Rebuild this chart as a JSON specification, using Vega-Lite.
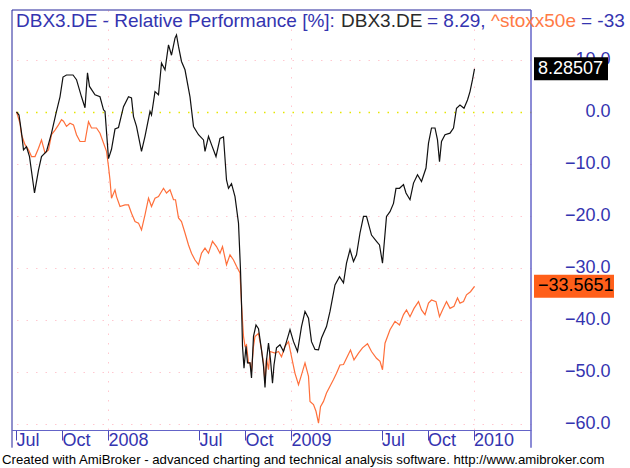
{
  "$schema": "https://vega.github.io/schema/vega-lite/v6.json",
  "width": 519,
  "height": 420,
  "autosize": {"type": "none"},
  "padding": {"left": 12, "top": 10, "right": 99, "bottom": 38},
  "background": "#ffffff",
  "config": {"view": {"stroke": null}, "font": "Liberation Sans"},
  "datasets": {
    "one": [{}],
    "dbx": [
      {"d":"2007-07-02","v":0},{"d":"2007-07-07","v":-0.6},{"d":"2007-07-12","v":-4},{"d":"2007-07-16","v":-7.3},{"d":"2007-07-22","v":-6.7},{"d":"2007-07-28","v":-8.6},{"d":"2007-08-07","v":-15.6},{"d":"2007-08-15","v":-11.2},{"d":"2007-08-21","v":-8.6},{"d":"2007-08-31","v":-7.6},{"d":"2007-09-10","v":-4.1},{"d":"2007-09-19","v":-0.3},{"d":"2007-09-27","v":2.9},{"d":"2007-10-03","v":6.7},{"d":"2007-10-10","v":7.1},{"d":"2007-10-23","v":7.1},{"d":"2007-10-30","v":6.2},{"d":"2007-11-09","v":2.9},{"d":"2007-11-16","v":0.8},{"d":"2007-11-21","v":7.5},{"d":"2007-11-25","v":4.9},{"d":"2007-12-06","v":3.3},{"d":"2007-12-16","v":2.9},{"d":"2007-12-23","v":0.4},{"d":"2007-12-26","v":0.1},
      {"d":"2008-01-02","v":-9},{"d":"2008-01-08","v":-7.2},{"d":"2008-01-15","v":-3.3},{"d":"2008-01-22","v":-3.0},{"d":"2008-02-01","v":1.0},{"d":"2008-02-11","v":2.9},{"d":"2008-02-17","v":2.7},{"d":"2008-02-21","v":-0.9},{"d":"2008-02-27","v":-2.8},{"d":"2008-03-08","v":-7.6},{"d":"2008-03-15","v":-4.7},{"d":"2008-03-25","v":0.1},{"d":"2008-03-28","v":-0.6},{"d":"2008-04-04","v":3.9},{"d":"2008-04-11","v":3.3},{"d":"2008-04-17","v":9.4},{"d":"2008-04-24","v":8.1},{"d":"2008-05-01","v":12.9},{"d":"2008-05-07","v":10.9},{"d":"2008-05-14","v":14.2},{"d":"2008-05-17","v":14.8},{"d":"2008-05-21","v":12.6},{"d":"2008-05-27","v":9.7},{"d":"2008-06-03","v":8.1},{"d":"2008-06-13","v":2.9},{"d":"2008-06-20","v":-2.8},{"d":"2008-06-30","v":-4.4},{"d":"2008-07-10","v":-5.4},{"d":"2008-07-13","v":-7.6},{"d":"2008-07-20","v":-4.7},{"d":"2008-07-26","v":-6.3},{"d":"2008-08-04","v":-8.6},{"d":"2008-08-12","v":-5.1},{"d":"2008-08-19","v":-4.8},{"d":"2008-08-25","v":-13.1},{"d":"2008-08-29","v":-14.7},{"d":"2008-09-04","v":-13.8},{"d":"2008-09-11","v":-16.3},{"d":"2008-09-18","v":-21.4},{"d":"2008-09-22","v":-30.4},{"d":"2008-09-24","v":-36.8},{"d":"2008-09-26","v":-45.1},{"d":"2008-09-29","v":-49.3},{"d":"2008-10-03","v":-45.1},{"d":"2008-10-06","v":-48.3},{"d":"2008-10-11","v":-48.3},{"d":"2008-10-14","v":-51.2},{"d":"2008-10-18","v":-43.2},{"d":"2008-10-23","v":-41.0},{"d":"2008-10-28","v":-41.7},{"d":"2008-11-03","v":-45.8},{"d":"2008-11-07","v":-48.9},{"d":"2008-11-10","v":-53.0},{"d":"2008-11-13","v":-47.8},{"d":"2008-11-17","v":-44.5},{"d":"2008-11-21","v":-47.7},{"d":"2008-11-25","v":-52.2},{"d":"2008-11-28","v":-48.7},{"d":"2008-12-03","v":-45.4},{"d":"2008-12-10","v":-44.8},{"d":"2008-12-17","v":-46.1},{"d":"2008-12-23","v":-44.2},{"d":"2008-12-30","v":-41.9},
      {"d":"2009-01-06","v":-44.2},{"d":"2009-01-14","v":-46.1},{"d":"2009-01-22","v":-41.3},{"d":"2009-01-29","v":-38.4},{"d":"2009-02-05","v":-39.7},{"d":"2009-02-11","v":-44.2},{"d":"2009-02-18","v":-45.7},{"d":"2009-02-25","v":-45.8},{"d":"2009-03-03","v":-43.5},{"d":"2009-03-13","v":-41.3},{"d":"2009-03-20","v":-38.4},{"d":"2009-03-30","v":-33.3},{"d":"2009-04-08","v":-31.7},{"d":"2009-04-16","v":-32.9},{"d":"2009-04-22","v":-29.1},{"d":"2009-04-29","v":-26.5},{"d":"2009-05-06","v":-28.8},{"d":"2009-05-12","v":-27.5},{"d":"2009-05-19","v":-23.3},{"d":"2009-05-26","v":-20.1},{"d":"2009-06-01","v":-20.1},{"d":"2009-06-11","v":-23.7},{"d":"2009-06-21","v":-24.9},{"d":"2009-06-27","v":-25.6},{"d":"2009-07-03","v":-29.1},{"d":"2009-07-11","v":-20.1},{"d":"2009-07-18","v":-19.2},{"d":"2009-07-25","v":-17.6},{"d":"2009-07-30","v":-14.7},{"d":"2009-08-06","v":-14.7},{"d":"2009-08-14","v":-14.0},{"d":"2009-08-19","v":-15.6},{"d":"2009-08-27","v":-16.9},{"d":"2009-09-03","v":-13.7},{"d":"2009-09-11","v":-12.1},{"d":"2009-09-19","v":-13.4},{"d":"2009-09-28","v":-10.8},{"d":"2009-10-03","v":-6.0},{"d":"2009-10-09","v":-3.1},{"d":"2009-10-16","v":-3.1},{"d":"2009-10-21","v":-5.4},{"d":"2009-10-25","v":-9.6},{"d":"2009-10-29","v":-5.7},{"d":"2009-11-05","v":-4.4},{"d":"2009-11-15","v":-4.1},{"d":"2009-11-22","v":-3.1},{"d":"2009-11-28","v":0.7},{"d":"2009-12-05","v":1.3},{"d":"2009-12-13","v":0.7},{"d":"2009-12-20","v":2.3},{"d":"2009-12-25","v":3.9},{"d":"2009-12-30","v":6.2},{"d":"2010-01-03","v":8.29}
    ],
    "sx": [
      {"d":"2007-07-02","v":0},{"d":"2007-07-09","v":-2.2},{"d":"2007-07-12","v":-4.4},{"d":"2007-07-19","v":-6.3},{"d":"2007-07-26","v":-7.3},{"d":"2007-08-01","v":-8.6},{"d":"2007-08-08","v":-8.6},{"d":"2007-08-15","v":-7.0},{"d":"2007-08-21","v":-5.4},{"d":"2007-08-28","v":-7.9},{"d":"2007-09-04","v":-7.3},{"d":"2007-09-10","v":-4.4},{"d":"2007-09-17","v":-3.5},{"d":"2007-09-24","v":-2.5},{"d":"2007-09-30","v":-1.5},{"d":"2007-10-04","v":-1.8},{"d":"2007-10-10","v":-2.8},{"d":"2007-10-17","v":-2.2},{"d":"2007-10-24","v":-2.5},{"d":"2007-10-30","v":-4.4},{"d":"2007-11-06","v":-5.7},{"d":"2007-11-16","v":-5.7},{"d":"2007-11-23","v":-1.9},{"d":"2007-11-29","v":-3.1},{"d":"2007-12-09","v":-3.1},{"d":"2007-12-16","v":-4.1},{"d":"2007-12-23","v":-6.0},{"d":"2007-12-29","v":-7.6},
      {"d":"2008-01-02","v":-10.5},{"d":"2008-01-05","v":-13.1},{"d":"2008-01-08","v":-16.6},{"d":"2008-01-15","v":-15.0},{"d":"2008-01-18","v":-16.3},{"d":"2008-01-25","v":-18.2},{"d":"2008-02-04","v":-17.9},{"d":"2008-02-11","v":-17.9},{"d":"2008-02-17","v":-19.5},{"d":"2008-02-24","v":-21.1},{"d":"2008-03-02","v":-21.4},{"d":"2008-03-08","v":-22.7},{"d":"2008-03-15","v":-19.8},{"d":"2008-03-22","v":-16.6},{"d":"2008-03-28","v":-18.2},{"d":"2008-04-04","v":-16.6},{"d":"2008-04-11","v":-16.3},{"d":"2008-04-21","v":-14.7},{"d":"2008-04-27","v":-15.6},{"d":"2008-05-04","v":-15.0},{"d":"2008-05-11","v":-16.9},{"d":"2008-05-15","v":-16.9},{"d":"2008-05-21","v":-20.4},{"d":"2008-05-27","v":-21.1},{"d":"2008-06-03","v":-23.3},{"d":"2008-06-10","v":-25.6},{"d":"2008-06-16","v":-27.2},{"d":"2008-06-23","v":-28.5},{"d":"2008-06-30","v":-29.4},{"d":"2008-07-06","v":-27.2},{"d":"2008-07-13","v":-26.2},{"d":"2008-07-20","v":-27.2},{"d":"2008-07-28","v":-24.9},{"d":"2008-08-05","v":-25.9},{"d":"2008-08-12","v":-27.2},{"d":"2008-08-17","v":-25.9},{"d":"2008-08-25","v":-29.4},{"d":"2008-09-01","v":-27.5},{"d":"2008-09-08","v":-28.5},{"d":"2008-09-14","v":-29.7},{"d":"2008-09-21","v":-31.0},{"d":"2008-09-24","v":-37.0},{"d":"2008-09-28","v":-43.2},{"d":"2008-10-01","v":-45.1},{"d":"2008-10-04","v":-44.8},{"d":"2008-10-08","v":-48.3},{"d":"2008-10-11","v":-48.3},{"d":"2008-10-14","v":-50.0},{"d":"2008-10-18","v":-45.1},{"d":"2008-10-21","v":-43.2},{"d":"2008-10-28","v":-42.6},{"d":"2008-11-03","v":-45.8},{"d":"2008-11-07","v":-48.3},{"d":"2008-11-10","v":-52.2},{"d":"2008-11-13","v":-47.4},{"d":"2008-11-17","v":-49.6},{"d":"2008-11-20","v":-46.1},{"d":"2008-11-30","v":-46.4},{"d":"2008-12-07","v":-46.1},{"d":"2008-12-13","v":-47.1},{"d":"2008-12-20","v":-45.1},{"d":"2008-12-27","v":-44.2},
      {"d":"2009-01-02","v":-47.1},{"d":"2009-01-09","v":-50.3},{"d":"2009-01-16","v":-52.5},{"d":"2009-01-22","v":-50.6},{"d":"2009-01-29","v":-48.3},{"d":"2009-02-05","v":-50.9},{"d":"2009-02-08","v":-55.7},{"d":"2009-02-15","v":-56.3},{"d":"2009-02-20","v":-57.6},{"d":"2009-02-25","v":-59.9},{"d":"2009-03-01","v":-56.7},{"d":"2009-03-07","v":-55.7},{"d":"2009-03-13","v":-54.1},{"d":"2009-03-20","v":-52.8},{"d":"2009-03-27","v":-51.5},{"d":"2009-04-02","v":-50.3},{"d":"2009-04-09","v":-48.7},{"d":"2009-04-16","v":-48.6},{"d":"2009-04-22","v":-47.4},{"d":"2009-04-30","v":-45.8},{"d":"2009-05-07","v":-47.7},{"d":"2009-05-16","v":-46.4},{"d":"2009-05-24","v":-45.4},{"d":"2009-06-03","v":-44.6},{"d":"2009-06-11","v":-46.1},{"d":"2009-06-21","v":-47.4},{"d":"2009-06-28","v":-48.0},{"d":"2009-07-03","v":-49.6},{"d":"2009-07-08","v":-44.5},{"d":"2009-07-18","v":-41.9},{"d":"2009-07-28","v":-40.3},{"d":"2009-08-06","v":-41.0},{"d":"2009-08-14","v":-39.0},{"d":"2009-08-20","v":-38.1},{"d":"2009-08-27","v":-39.4},{"d":"2009-09-04","v":-37.8},{"d":"2009-09-13","v":-36.5},{"d":"2009-09-19","v":-38.1},{"d":"2009-09-26","v":-39.0},{"d":"2009-10-03","v":-36.8},{"d":"2009-10-09","v":-36.2},{"d":"2009-10-18","v":-36.5},{"d":"2009-10-25","v":-39.4},{"d":"2009-10-31","v":-38.1},{"d":"2009-11-08","v":-36.5},{"d":"2009-11-15","v":-37.8},{"d":"2009-11-23","v":-37.4},{"d":"2009-11-30","v":-35.8},{"d":"2009-12-05","v":-36.8},{"d":"2009-12-12","v":-36.5},{"d":"2009-12-18","v":-35.2},{"d":"2009-12-26","v":-34.6},{"d":"2010-01-03","v":-33.57}
    ],
    "tags": [
      {"s":"DBX3.DE","v":8.28507},
      {"s":"^stoxx50e","v":-33.5651}
    ]
  },
  "layer": [
    {
      "data": {"name": "sx"},
      "mark": {"type": "line", "color": "#ff6f3a", "strokeWidth": 1.2},
      "encoding": {
        "x": {
          "field": "d", "type": "temporal", "title": null,
          "scale": {"type": "utc", "domain": [{"year":2007,"month":6,"date":23,"utc":true},{"year":2010,"month":4,"date":26,"utc":true}]},
          "axis": {
            "orient": "bottom",
            "values": [{"year":2007,"month":7,"date":1,"utc":true},{"year":2007,"month":10,"date":1,"utc":true},{"year":2008,"month":1,"date":1,"utc":true},{"year":2008,"month":7,"date":1,"utc":true},{"year":2008,"month":10,"date":1,"utc":true},{"year":2009,"month":1,"date":1,"utc":true},{"year":2009,"month":7,"date":1,"utc":true},{"year":2009,"month":10,"date":1,"utc":true},{"year":2010,"month":1,"date":1,"utc":true}],
            "labelExpr": "utcmonth(datum.value) == 0 ? utcFormat(datum.value, '%Y') : utcFormat(datum.value, '%b')",
            "domainColor": "#6464c8",
            "tickColor": "#4848b8",
            "tickSize": 10,
            "labelAlign": "left",
            "labelBaseline": "middle",
            "labelPadding": 0,
            "labelDx": 2,
            "labelFontSize": 18,
            "labelColor": "#3434b0",
            "labelFlush": false,
            "labelOverlap": false,
            "labelBound": false,
            "grid": true,
            "gridColor": "#ffc8d0",
            "gridDash": [1.5, 8],
            "gridOpacity": {"condition": {"test": "utcmonth(datum.value) == 0", "value": 1}, "value": 0}
          }
        },
        "y": {
          "field": "v", "type": "quantitative", "title": null,
          "scale": {"domain": [-61.2, 19.6], "nice": false, "zero": false},
          "axis": {
            "orient": "right",
            "values": [-60, -50, -40, -30, -20, -10, 0, 10],
            "format": ".1f",
            "domain": false,
            "ticks": false,
            "tickSize": 0,
            "labelAlign": "right",
            "labelBaseline": "middle",
            "labelPadding": 79,
            "labelFontSize": 18,
            "labelColor": "#3434b0",
            "labelOverlap": false,
            "labelBound": false,
            "labelFlush": false,
            "grid": true,
            "gridColor": {"condition": {"test": "datum.value === 0", "value": "#e6e600"}, "value": "#ffc8d0"},
            "gridWidth": {"condition": {"test": "datum.value === 0", "value": 1.5}, "value": 1},
            "gridDash": [1.5, 8]
          }
        }
      }
    },
    {
      "data": {"name": "dbx"},
      "mark": {"type": "line", "color": "#111111", "strokeWidth": 1.2},
      "encoding": {
        "x": {"field": "d", "type": "temporal"},
        "y": {"field": "v", "type": "quantitative"}
      }
    },
    {
      "data": {"name": "one"},
      "mark": {"type": "rule", "color": "#22229a", "strokeWidth": 1},
      "encoding": {
        "x": {"datum": {"year":2007,"month":6,"date":23,"utc":true}, "type": "temporal"},
        "y": {"datum": 19.6},
        "y2": {"datum": -64.6}
      }
    },
    {
      "data": {"name": "one"},
      "mark": {"type": "rule", "color": "#22229a", "strokeWidth": 1},
      "encoding": {
        "x": {"datum": {"year":2007,"month":6,"date":23,"utc":true}, "type": "temporal"},
        "x2": {"datum": {"year":2010,"month":4,"date":26,"utc":true}},
        "y": {"datum": 19.6}
      }
    },
    {
      "data": {"name": "one"},
      "mark": {"type": "rule", "color": "#6464c8", "strokeWidth": 1.5},
      "encoding": {
        "x": {"datum": {"year":2010,"month":4,"date":26,"utc":true}, "type": "temporal"},
        "y": {"datum": 19.6},
        "y2": {"datum": -64.6}
      }
    },
    {
      "data": {"name": "tags"},
      "transform": [{"filter": "datum.s == 'DBX3.DE'"}],
      "mark": {"type": "tick", "orient": "horizontal", "color": "#000000", "size": 74, "thickness": 23, "opacity": 1},
      "encoding": {
        "x": {"datum": {"year":2010,"month":7,"date":15,"utc":true}, "type": "temporal"},
        "y": {"field": "v", "type": "quantitative"}
      }
    },
    {
      "data": {"name": "tags"},
      "transform": [{"filter": "datum.s == '^stoxx50e'"}],
      "mark": {"type": "tick", "orient": "horizontal", "color": "#ff5f1a", "size": 80, "thickness": 23, "opacity": 1},
      "encoding": {
        "x": {"datum": {"year":2010,"month":7,"date":21,"utc":true}, "type": "temporal"},
        "y": {"field": "v", "type": "quantitative"}
      }
    },
    {
      "data": {"name": "tags"},
      "mark": {"type": "text", "align": "left", "baseline": "middle", "fontSize": 18},
      "encoding": {
        "x": {"datum": {"year":2010,"month":5,"date":10,"utc":true}, "type": "temporal"},
        "y": {"field": "v", "type": "quantitative"},
        "text": {"field": "v", "type": "quantitative", "format": ""},
        "color": {"condition": {"test": "datum.s == 'DBX3.DE'", "value": "#ffffff"}, "value": "#000000"}
      }
    },
    {
      "data": {"name": "one"},
      "mark": {"type": "text", "align": "left", "baseline": "middle", "fontSize": 19, "color": "#3434b0", "text": "DBX3.DE - Relative Performance [%]:"},
      "encoding": {
        "x": {"datum": {"year":2007,"month":7,"date":1,"utc":true}, "type": "temporal"},
        "y": {"datum": 17.4}
      }
    },
    {
      "data": {"name": "one"},
      "mark": {"type": "text", "align": "left", "baseline": "middle", "fontSize": 19, "color": "#2a2a2a", "text": "DBX3.DE"},
      "encoding": {
        "x": {"datum": {"year":2009,"month":4,"date":11,"utc":true}, "type": "temporal"},
        "y": {"datum": 17.4}
      }
    },
    {
      "data": {"name": "one"},
      "mark": {"type": "text", "align": "left", "baseline": "middle", "fontSize": 19, "color": "#3434b0", "text": "= 8.29,"},
      "encoding": {
        "x": {"datum": {"year":2009,"month":9,"date":30,"utc":true}, "type": "temporal"},
        "y": {"datum": 17.4}
      }
    },
    {
      "data": {"name": "one"},
      "mark": {"type": "text", "align": "left", "baseline": "middle", "fontSize": 19, "color": "#ff7a45", "text": "^stoxx50e"},
      "encoding": {
        "x": {"datum": {"year":2010,"month":2,"date":5,"utc":true}, "type": "temporal"},
        "y": {"datum": 17.4}
      }
    },
    {
      "data": {"name": "one"},
      "mark": {"type": "text", "align": "left", "baseline": "middle", "fontSize": 19, "color": "#3434b0", "text": "= -33"},
      "encoding": {
        "x": {"datum": {"year":2010,"month":8,"date":4,"utc":true}, "type": "temporal"},
        "y": {"datum": 17.4}
      }
    },
    {
      "data": {"name": "one"},
      "mark": {"type": "text", "align": "left", "baseline": "middle", "fontSize": 13.2, "color": "#000000", "text": "Created with AmiBroker - advanced charting and technical analysis software. http://www.amibroker.com"},
      "encoding": {
        "x": {"datum": {"year":2007,"month":6,"date":3,"utc":true}, "type": "temporal"},
        "y": {"datum": -67.0}
      }
    }
  ]
}
